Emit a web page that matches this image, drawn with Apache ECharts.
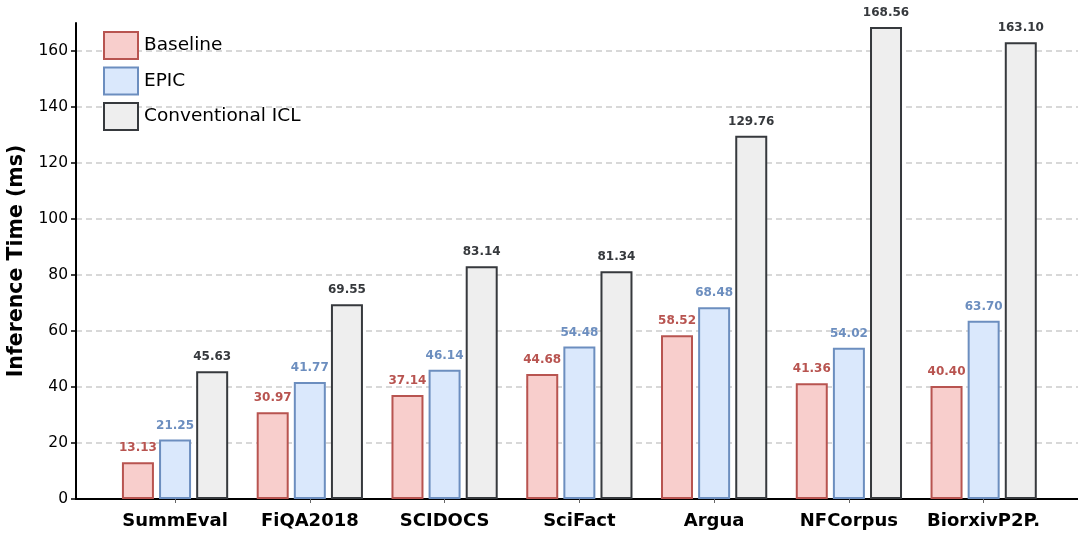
<!DOCTYPE html>
<html>
<head>
<meta charset="utf-8">
<script src="https://cdn.jsdelivr.net/npm/echarts@6/dist/echarts.min.js"></script>
<style>
  html, body { margin: 0; padding: 0; background: #fff; }
  #chart { width: 1078px; height: 533px; }
</style>
</head>
<body>
<div id="chart"></div>
<script>
var categories = ["SummEval", "FiQA2018", "SCIDOCS", "SciFact", "Argua", "NFCorpus", "BiorxivP2P."];
var baseline = [13.13, 30.97, 37.14, 44.68, 58.52, 41.36, 40.40];
var epic = [21.25, 41.77, 46.14, 54.48, 68.48, 54.02, 63.70];
var conventional = [45.63, 69.55, 83.14, 81.34, 129.76, 168.56, 163.10];
var yTicks = [0, 20, 40, 60, 80, 100, 120, 140, 160];

var font = "DejaVu Sans";

function mk(name, values, fill, stroke) {
  return {
    name: name,
    type: "bar",
    barWidth: 32,
    barGap: "16%",
    data: values.map(function (v, i) { return [i, v]; }),
    itemStyle: { color: fill, borderColor: stroke, borderWidth: 2 },
    label: {
      show: true,
      position: "top",
      distance: 8,
      color: stroke,
      fontFamily: font,
      fontWeight: "bold",
      fontSize: 12,
      formatter: function (p) { return p.value[1].toFixed(2); }
    }
  };
}

var chart = echarts.init(document.getElementById("chart"));
chart.setOption({
  animation: false,
  textStyle: { fontFamily: font },
  grid: { left: 76, right: 0, top: 23, bottom: 34, containLabel: false, outerBoundsMode: "none" },
  legend: {
    orient: "vertical",
    left: 103,
    top: 31,
    padding: 0,
    itemWidth: 34,
    itemHeight: 27,
    itemGap: 6.5,
    icon: "rect",
    textStyle: { fontSize: 18.5, lineHeight: 27, color: "#000", fontFamily: font, padding: [0, 0, 0, 1] },
    data: ["Baseline", "EPIC", "Conventional ICL"]
  },
  xAxis: {
    type: "value",
    min: -0.735,
    max: 6.7,
    splitLine: { show: false },
    axisLine: { onZero: false, lineStyle: { color: "#000", width: 2 } },
    axisTick: { customValues: [0, 1, 2, 3, 4, 5, 6], length: 4, lineStyle: { color: "#666" } },
    axisLabel: {
      customValues: [0, 1, 2, 3, 4, 5, 6],
      formatter: function (v) { return categories[Math.round(v)]; },
      color: "#000",
      fontSize: 18,
      fontWeight: "bold",
      fontFamily: font,
      margin: 13
    }
  },
  yAxis: {
    type: "value",
    min: 0,
    max: 170,
    interval: 20,
    name: "Inference Time (ms)",
    nameLocation: "middle",
    nameGap: 45,
    nameTextStyle: { fontSize: 20.5, fontWeight: "bold", color: "#000", fontFamily: font },
    axisLine: { show: true, onZero: false, lineStyle: { color: "#000", width: 2 } },
    axisTick: { show: true, customValues: yTicks, length: 5, lineStyle: { color: "#000", width: 1.5 } },
    axisLabel: {
      customValues: yTicks,
      color: "#000",
      fontSize: 15.5,
      fontFamily: font,
      margin: 8
    },
    splitLine: { show: true, lineStyle: { color: "#cccccc", type: [6, 4], width: 1.5 } }
  },
  series: [
    mk("Baseline", baseline, "#f8cecc", "#b85450"),
    mk("EPIC", epic, "#dae8fc", "#6c8ebf"),
    mk("Conventional ICL", conventional, "#eeeeee", "#36393d")
  ]
});
</script>
</body>
</html>
